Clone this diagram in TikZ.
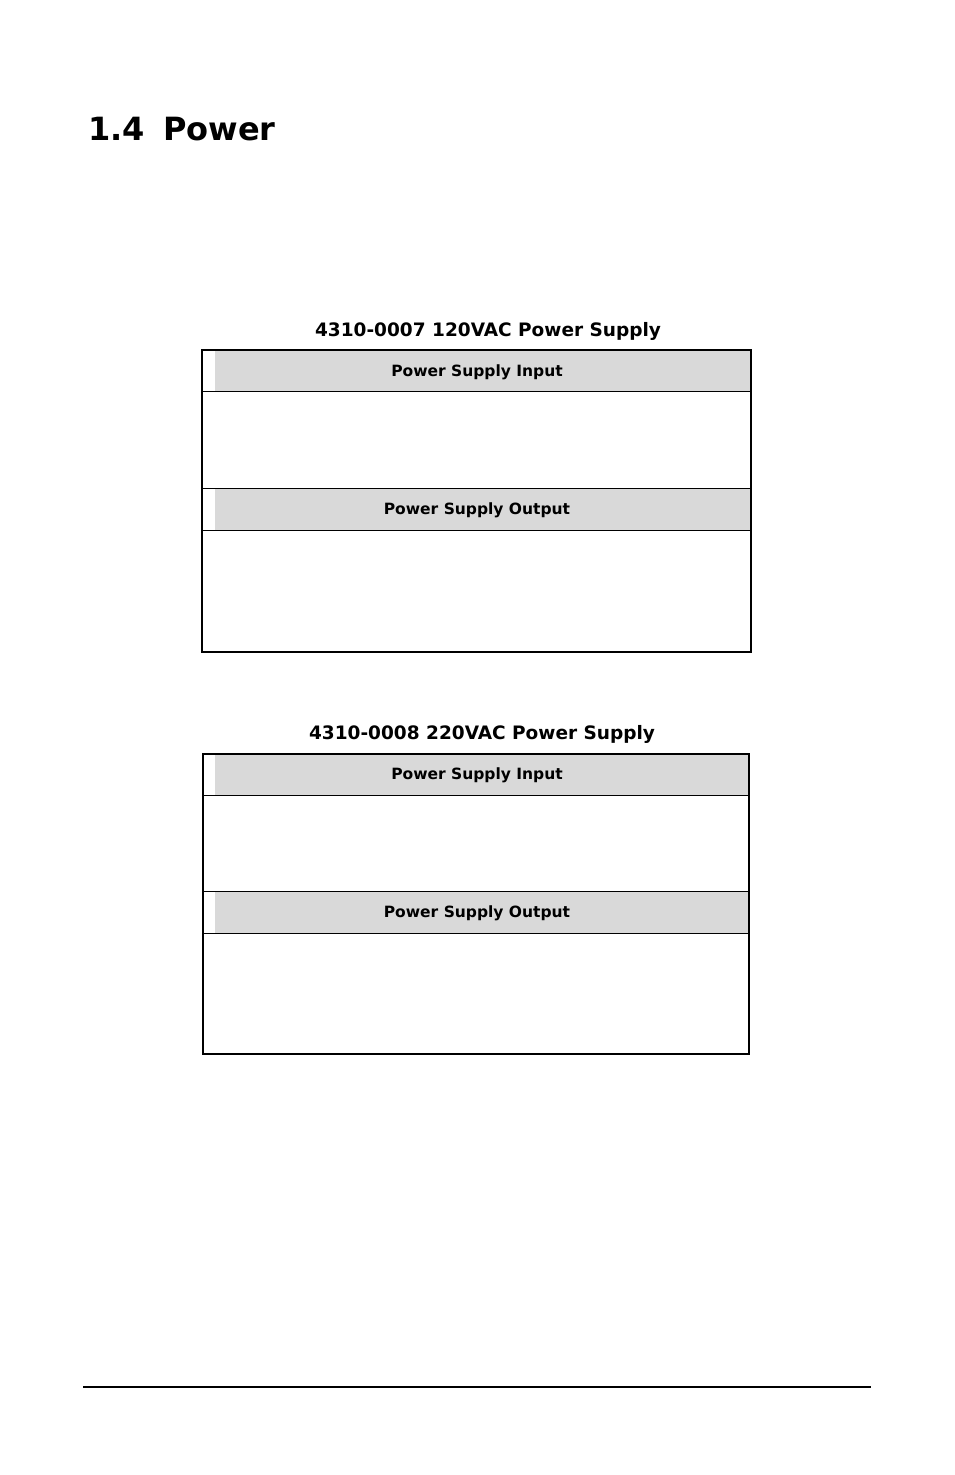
\documentclass[tikz,border=0pt]{standalone}
\usepackage{fontspec}
\setmainfont{DejaVu Sans}
\begin{document}
\begin{tikzpicture}[x=1pt,y=-1pt,
  hdr/.style={font=\bfseries\fontsize{15.5}{18}\selectfont,anchor=center},
  ttl/.style={font=\bfseries\fontsize{18.5}{22}\selectfont,anchor=center},
  frame/.style={line width=2.6pt},
  rule/.style={line width=1pt}]
\useasboundingbox (0,0) rectangle (954,1475);
\node[anchor=base west,font=\bfseries\fontsize{32}{36}\selectfont] (t) at (85,140) {1.4\hspace{18pt}Power};
% table 1
\node[ttl] (t1) at (488,331) {4310-0007 120VAC Power Supply};
\fill[gray!30] (215,350) rectangle (750,391);
\fill[gray!30] (215,488) rectangle (750,530);
\draw[rule] (202,391) -- (751,391) (202,488) -- (751,488) (202,530) -- (751,530);
\draw[frame] (202,350) rectangle (751,652);
\node[hdr] (h1) at (477,372) {Power Supply Input};
\node[hdr] (h2) at (477,510) {Power Supply Output};
% table 2
\node[ttl] (t2) at (482,734) {4310-0008 220VAC Power Supply};
\fill[gray!30] (215,754) rectangle (748,795);
\fill[gray!30] (215,891) rectangle (748,933);
\draw[rule] (203,795) -- (749,795) (203,891) -- (749,891) (203,933) -- (749,933);
\draw[frame] (203,754) rectangle (749,1054);
\node[hdr] (h3) at (477,775) {Power Supply Input};
\node[hdr] (h4) at (477,913) {Power Supply Output};
\draw[line width=2.6pt] (83,1387) -- (871,1387);
\end{tikzpicture}
\end{document}
